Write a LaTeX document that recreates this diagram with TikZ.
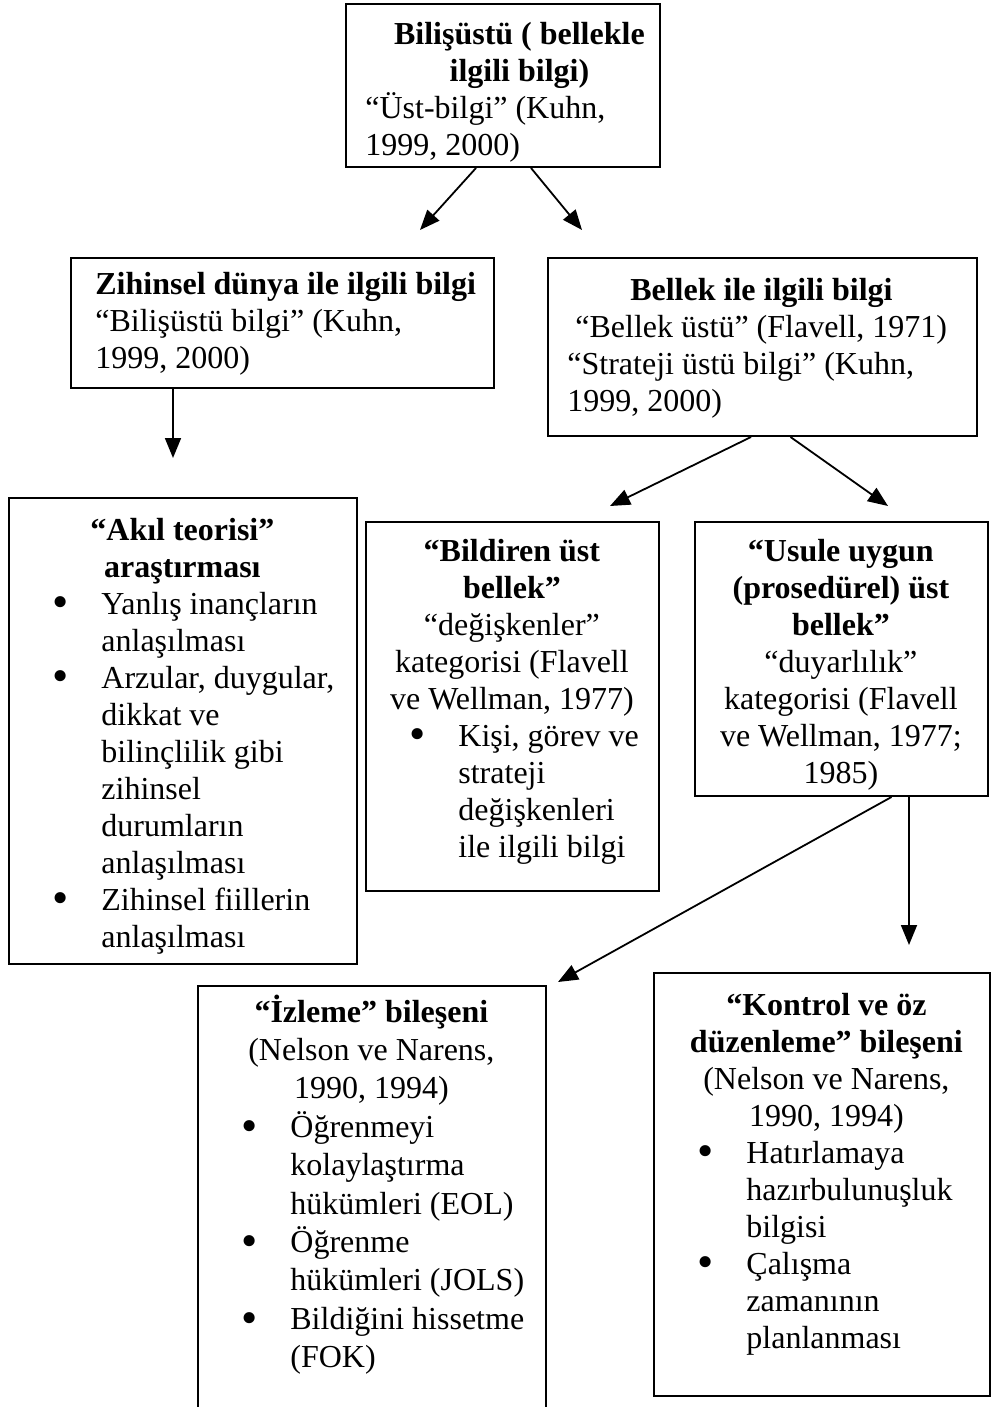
\documentclass[tikz,border=0pt]{standalone}
\usepackage{fontspec}
\setmainfont{Liberation Serif}
\usetikzlibrary{arrows.meta}

% bullet item with hanging text (lines broken by \newline)
\newcommand{\madde}[1]{\par\hangindent=46.5pt\hangafter=1\noindent\hspace*{22pt}%
  \makebox[24.5pt][l]{\raisebox{-0.12em}{\scalebox{1.45}{\textbullet}}}#1\par}
\newcommand{\orta}[1]{{\centering #1\par}}

\begin{document}
\begin{tikzpicture}[x=0.5pt,y=-0.5pt]
        \tikzstyle{boxstyle}=[draw, line width=1pt, anchor=north west, inner sep=0pt]
        \tikzstyle{textstyle}=[anchor=base west, inner sep=0pt, align=flush left, font=\fontsize{16}{18.5}\selectfont]
        \tikzstyle{arrowstyle}=[line width=0.9pt, -{Triangle[length=10pt,width=8pt]}]
        \useasboundingbox (0,0) rectangle (992,1407);

        % the frames
        \node[boxstyle, minimum width=157pt, minimum height=81.5pt] (ust) at (345,3) {};
        \node[boxstyle, minimum width=211.5pt, minimum height=65pt] (zihin) at (70,257) {};
        \node[boxstyle, minimum width=214.5pt, minimum height=89pt] (bellek) at (547,257) {};
        \node[boxstyle, minimum width=174pt, minimum height=233pt] (akil) at (8,497) {};
        \node[boxstyle, minimum width=146.5pt, minimum height=184.5pt] (bildiren) at (365,521) {};
        \node[boxstyle, minimum width=146.5pt, minimum height=137pt] (usule) at (694,521) {};
        \node[boxstyle, minimum width=174pt, minimum height=215pt] (izleme) at (197,985) {};
        \node[boxstyle, minimum width=168pt, minimum height=211.5pt] (kontrol) at (653,972) {};

        % the texts
        \node[textstyle, text width=146pt] (ustT) at (365,45) {%
          {\centering\leftskip=8pt plus 1fil\bfseries Bilişüstü ( bellekle\\ ilgili bilgi)\par}
          “Üst-bilgi” (Kuhn,\\ 1999, 2000)};
        \node[textstyle, text width=197.5pt] (zihinT) at (95,294) {%
          \textbf{Zihinsel dünya ile ilgili bilgi}\\ “Bilişüstü bilgi” (Kuhn,\\ 1999, 2000)};
        \node[textstyle, text width=194pt] (bellekT) at (567,300) {%
          \orta{\bfseries Bellek ile ilgili bilgi}
          \hspace*{4pt}“Bellek üstü” (Flavell, 1971)\\ “Strateji üstü bilgi” (Kuhn,\\ 1999, 2000)};
        \node[textstyle, text width=174pt] (akilT) at (8,540) {%
          \orta{\bfseries “Akıl teorisi”\\ araştırması}
          \madde{Yanlış inançların\newline anlaşılması}
          \madde{Arzular, duygular,\newline dikkat ve\newline bilinçlilik gibi\newline zihinsel\newline durumların\newline anlaşılması}
          \madde{Zihinsel fiillerin\newline anlaşılması}};
        \node[textstyle, text width=146.5pt] (bildirenT) at (365,561) {%
          \orta{\bfseries “Bildiren üst\\ bellek”}
          \orta{“değişkenler”\\ kategorisi (Flavell\\ ve Wellman, 1977)}
          \madde{Kişi, görev ve\newline strateji\newline değişkenleri\newline ile ilgili bilgi}};
        \node[textstyle, text width=146.5pt] (usuleT) at (694,561) {%
          \orta{\bfseries “Usule uygun\\ (prosedürel) üst\\ bellek”}
          \orta{“duyarlılık”\\ kategorisi (Flavell\\ ve Wellman, 1977;\\ 1985)}};
        \node[textstyle, text width=174pt, font=\fontsize{16}{19.2}\selectfont] (izlemeT) at (197,1022) {%
          \orta{\textbf{“İzleme” bileşeni}\\ (Nelson ve Narens,\\ 1990, 1994)}
          \madde{Öğrenmeyi\newline kolaylaştırma\newline hükümleri (EOL)}
          \madde{Öğrenme\newline hükümleri (JOLS)}
          \madde{Bildiğini hissetme\newline (FOK)}};
        \node[textstyle, text width=168pt] (kontrolT) at (653,1015) {%
          \orta{\bfseries\leftskip=5pt plus 1fil “Kontrol ve öz\\ düzenleme” bileşeni}
          \orta{\leftskip=5pt plus 1fil (Nelson ve Narens,\\ 1990, 1994)}
          \madde{Hatırlamaya\newline hazırbulunuşluk\newline bilgisi}
          \madde{Çalışma\newline zamanının\newline planlanması}};

        % arrow tips
        \coordinate (zihinA) at (420,230);
        \coordinate (bellekA) at (582,230);
        \coordinate (akilA) at (173,458);
        \coordinate (bildirenA) at (610,506);
        \coordinate (usuleA) at (888,506);
        \coordinate (izlemeA) at (558,982);
        \coordinate (kontrolA) at (909,945);

        % draw the arrows
        \draw[arrowstyle] ([xshift=-13.5pt]ust.south) -- (zihinA);
        \draw[arrowstyle] ([xshift=14pt]ust.south) -- (bellekA);
        \draw[arrowstyle] (zihin.south -| akilA) -- (akilA);
        \draw[arrowstyle] ([xshift=-5.75pt]bellek.south) -- (bildirenA);
        \draw[arrowstyle] ([xshift=14pt]bellek.south) -- (usuleA);
        \draw[arrowstyle] ([xshift=25pt]usule.south) -- (izlemeA);
        \draw[arrowstyle] (usule.south -| kontrolA) -- (kontrolA);
\end{tikzpicture}
\end{document}
